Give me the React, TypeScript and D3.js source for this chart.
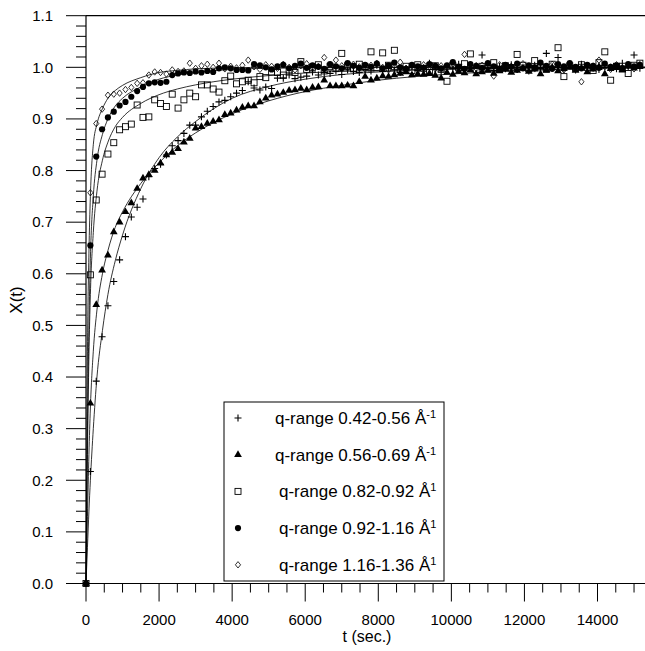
import React from "react";
import * as d3 from "d3";

const WIDTH = 645;
const HEIGHT = 651;

// sampling times (s), first point is the origin
const times = [0, 120, 280, 440, 600, 760, 920, 1080, 1240, 1400, 1560, 1720, 1880, 2040, 2200, 2360, 2520, 2680, 2840, 3000, 3160, 3320, 3480, 3640, 3800, 3960, 4120, 4280, 4440, 4600, 4760, 4920, 5080, 5240, 5400, 5560, 5720, 5880, 6040, 6200, 6360, 6520, 6680, 6840, 7000, 7160, 7320, 7480, 7640, 7800, 7960, 8120, 8280, 8440, 8600, 8760, 8920, 9080, 9240, 9400, 9560, 9720, 9880, 10040, 10200, 10360, 10520, 10680, 10840, 11000, 11160, 11320, 11480, 11640, 11800, 11960, 12120, 12280, 12440, 12600, 12760, 12920, 13080, 13240, 13400, 13560, 13720, 13880, 14040, 14200, 14360, 14520, 14680, 14840, 15000, 15160];

const plusVals = [0,
  0.217, 0.392, 0.478, 0.538, 0.585, 0.627, 0.672, 0.710, 0.729, 0.745, 0.788, 0.804,
  0.812, 0.830, 0.848, 0.858, 0.872, 0.888, 0.888, 0.904, 0.915, 0.924, 0.933, 0.936,
  0.943, 0.950, 0.955, 0.972, 0.960, 0.956, 0.962, 0.959, 0.979, 0.979, 0.985, 0.978,
  0.981, 0.983, 0.991, 0.985, 0.990, 0.988, 0.993, 0.986, 0.995, 0.992, 0.990, 0.996,
  0.993, 1.004, 0.992, 0.998, 0.995, 0.990, 0.997, 1.002, 0.994, 0.999, 1.008, 0.996,
  0.993, 1.001, 0.997, 1.006, 0.995, 0.999, 1.003, 1.024, 0.998, 0.994, 1.002, 0.997,
  1.005, 0.996, 1.000, 0.993, 1.004, 0.998, 1.027, 1.001, 1.019, 0.997, 1.003, 0.995,
  1.006, 0.999, 1.002, 0.996, 1.004, 1.000, 0.997, 1.008, 1.001, 1.024, 0.998];

const triVals = [0,
  0.349, 0.540, 0.607, 0.636, 0.681, 0.700, 0.720, 0.737, 0.765, 0.785, 0.792, 0.800,
  0.814, 0.830, 0.835, 0.842, 0.855, 0.862, 0.882, 0.885, 0.891, 0.895, 0.898, 0.908,
  0.911, 0.917, 0.922, 0.925, 0.925, 0.933, 0.940, 0.946, 0.948, 0.951, 0.955, 0.956,
  0.959, 0.956, 0.961, 0.962, 0.975, 0.964, 0.964, 0.964, 0.965, 0.964, 0.972, 0.982,
  0.975, 0.979, 0.983, 0.982, 0.985, 0.988, 0.991, 0.985, 0.987, 0.986, 0.988, 0.984,
  0.979, 0.990, 0.986, 0.992, 0.989, 0.995, 0.987, 0.991, 0.994, 0.988, 0.993, 0.996,
  0.990, 0.994, 0.998, 0.992, 0.996, 0.987, 0.995, 0.999, 0.993, 0.997, 1.000, 0.994,
  0.998, 0.991, 0.996, 1.001, 0.987, 0.997, 0.999, 0.995, 1.002, 0.998, 1.004];

const squareVals = [0,
  0.598, 0.743, 0.793, 0.832, 0.854, 0.879, 0.885, 0.890, 0.927, 0.903, 0.904, 0.937,
  0.930, 0.924, 0.948, 0.921, 0.937, 0.950, 0.943, 0.966, 0.966, 0.958, 0.952, 0.974,
  0.983, 0.968, 0.972, 0.975, 0.970, 0.982, 0.980, 0.991, 0.990, 0.985, 0.995, 0.990,
  1.011, 0.996, 1.000, 1.005, 0.993, 1.002, 0.998, 1.027, 1.003, 0.997, 1.006, 1.001,
  1.030, 0.999, 1.028, 1.004, 1.033, 0.996, 1.002, 0.994, 1.005, 0.998, 0.990, 1.003,
  0.996, 0.973, 1.004, 0.999, 1.007, 1.026, 0.995, 1.002, 0.998, 1.009, 0.996, 1.003,
  0.999, 1.025, 1.004, 0.997, 1.013, 1.001, 0.996, 1.006, 1.038, 0.982, 1.003, 0.998,
  1.005, 1.000, 0.994, 1.009, 1.030, 0.975, 1.002, 0.997, 0.988, 1.004, 1.008];

const circleVals = [0,
  0.655, 0.827, 0.880, 0.903, 0.914, 0.926, 0.933, 0.943, 0.954, 0.962, 0.969, 0.971,
  0.970, 0.972, 0.985, 0.988, 0.990, 0.989, 0.992, 0.990, 0.993, 0.991, 0.998, 1.000,
  0.998, 0.995, 0.995, 0.994, 1.006, 1.004, 1.000, 0.996, 1.002, 1.005, 0.998, 1.003,
  1.007, 0.999, 1.004, 1.001, 0.997, 1.006, 1.002, 0.998, 1.008, 1.003, 0.999, 1.005,
  1.001, 1.007, 0.998, 1.004, 1.009, 1.000, 0.997, 1.005, 1.002, 0.999, 1.006, 1.003,
  0.998, 1.004, 1.010, 1.001, 0.997, 1.006, 1.003, 0.999, 1.008, 1.002, 0.996, 1.005,
  1.001, 1.007, 0.998, 1.004, 1.000, 1.009, 1.003, 0.997, 1.006, 1.002, 1.008, 1.001,
  0.998, 1.005, 1.003, 0.999, 1.007, 1.001, 1.004, 0.998, 1.006, 1.002, 1.005];

const diamondVals = [0,
  0.757, 0.891, 0.919, 0.946, 0.948, 0.950, 0.957, 0.961, 0.969, 0.970, 0.985, 0.991,
  0.990, 0.987, 0.995, 0.992, 0.993, 1.008, 0.998, 1.003, 1.006, 1.000, 1.008, 0.997,
  1.002, 0.999, 1.004, 1.014, 1.001, 0.996, 1.005, 1.002, 0.998, 1.006, 1.000, 0.995,
  1.003, 1.007, 0.999, 1.002, 1.019, 0.997, 1.014, 1.003, 0.999, 1.006, 1.001, 0.996,
  1.004, 1.008, 1.000, 0.995, 1.003, 1.010, 0.998, 1.002, 0.994, 1.005, 1.001, 0.997,
  1.003, 0.999, 1.006, 0.996, 1.025, 1.002, 0.998, 1.004, 1.000, 0.983, 1.005, 0.999,
  1.002, 0.996, 1.007, 1.001, 0.997, 1.004, 0.999, 1.006, 1.002, 0.995, 1.003, 1.000,
  0.972, 1.004, 0.998, 1.014, 1.001, 0.996, 1.005, 0.999, 1.003, 0.997, 1.004];

// fitted curves at these times
const fitTimes = [0, 40, 80, 120, 200, 300, 450, 600, 800, 1000, 1500, 2000, 2500, 3000, 4000, 5000, 6000, 7000, 8000, 10000, 12000, 15300];
const plusFit = [0, 0.07, 0.14, 0.2, 0.3, 0.4, 0.49, 0.56, 0.625, 0.675, 0.765, 0.825, 0.865, 0.895, 0.94, 0.963, 0.977, 0.986, 0.991, 0.997, 0.999, 1.0];
const triFit = [0, 0.13, 0.25, 0.34, 0.45, 0.53, 0.6, 0.645, 0.69, 0.72, 0.775, 0.815, 0.848, 0.873, 0.91, 0.935, 0.953, 0.965, 0.975, 0.987, 0.994, 0.999];
const squareFit = [0, 0.25, 0.44, 0.56, 0.68, 0.76, 0.82, 0.855, 0.885, 0.903, 0.93, 0.947, 0.958, 0.966, 0.977, 0.984, 0.989, 0.992, 0.994, 0.997, 0.999, 1.0];
const circleFit = [0, 0.3, 0.5, 0.63, 0.75, 0.82, 0.87, 0.9, 0.925, 0.94, 0.962, 0.977, 0.985, 0.99, 0.996, 0.998, 0.999, 1.0, 1.0, 1.0, 1.0, 1.0];
const diamondFit = [0, 0.45, 0.64, 0.75, 0.85, 0.89, 0.92, 0.94, 0.955, 0.965, 0.98, 0.99, 0.994, 0.997, 0.999, 1.0, 1.0, 1.0, 1.0, 1.0, 1.0, 1.0];

const legendRanges = ["0.42-0.56", "0.56-0.69", "0.82-0.92", "0.92-1.16", "1.16-1.36"];
const legendSup = ["-1", "-1", "1", "1", "1"];

const xMajor = [0, 2000, 4000, 6000, 8000, 10000, 12000, 14000];
const yMajor = [0, 0.1, 0.2, 0.3, 0.4, 0.5, 0.6, 0.7, 0.8, 0.9, 1.0, 1.1];

const FONT = "'Liberation Sans', Arial, Helvetica, sans-serif";

const Marker = ({ kind }: { kind: string }) => {
  if (kind === "plus")
    return <path d="M-3.5,0H3.5M0,-3.5V3.5" stroke="#000" strokeWidth={1.1} fill="none" />;
  if (kind === "tri")
    return <path d={d3.symbol(d3.symbolTriangle, 26)() || ""} fill="#000" />;
  if (kind === "square")
    return <rect x={-3} y={-3} width={6} height={6} fill="none" stroke="#000" strokeWidth={0.9} />;
  if (kind === "circle") return <circle r={3.1} fill="#000" />;
  return <path d="M0,-3.2L2.6,0L0,3.2L-2.6,0Z" fill="none" stroke="#000" strokeWidth={0.8} />;
};

const series = [
  { kind: "plus", vals: plusVals, fit: plusFit },
  { kind: "tri", vals: triVals, fit: triFit },
  { kind: "square", vals: squareVals, fit: squareFit },
  { kind: "circle", vals: circleVals, fit: circleFit },
  { kind: "diamond", vals: diamondVals, fit: diamondFit },
];

export default function App() {
  const x = d3.scaleLinear().domain([0, 15300]).range([86, 645]);
  const y = d3.scaleLinear().domain([0, 1.1]).range([583.5, 15.7]);

  const line = d3
    .line<number>()
    .x((_, i) => x(fitTimes[i]))
    .y((d) => y(d))
    .curve(d3.curveMonotoneX);

  // minor ticks every 500 s and every 0.02
  const xMinor = d3.range(0, 15301, 500).filter((v) => v % 2000 !== 0);
  const yMinor = d3.range(0, 56).map((i) => i * 0.02).filter((v) => Math.round(v * 100) % 10 !== 0);

  return (
    <div style={{ position: "absolute", left: 0, top: 0 }}>
      <svg width={WIDTH} height={HEIGHT} style={{ display: "block", background: "#fff" }} fontFamily={FONT}>
        {/* fitted curves */}
        {series.map((s) => (
          <path key={s.kind + "fit"} d={line(s.fit) || ""} fill="none" stroke="#000" strokeWidth={0.8} />
        ))}

        {/* points */}
        {series.map((s) => (
          <g key={s.kind}>
            {s.vals.map((v, i) => (
              <g key={i} transform={`translate(${x(times[i])},${y(v)})`}>
                <Marker kind={s.kind} />
              </g>
            ))}
          </g>
        ))}

        {/* frame */}
        <line x1={x(0)} x2={645} y1={y(1.1)} y2={y(1.1)} stroke="#000" strokeWidth={1.2} />
        <line x1={x(0)} x2={x(0)} y1={y(0)} y2={y(1.1)} stroke="#000" strokeWidth={1.2} />
        <line x1={x(0)} x2={645} y1={y(0)} y2={y(0)} stroke="#000" strokeWidth={1.2} />

        {/* y axis ticks */}
        {yMajor.map((v) => (
          <g key={v}>
            <line x1={x(0) - 20} x2={x(0)} y1={y(v)} y2={y(v)} stroke="#000" strokeWidth={1} />
            <text x={53} y={y(v)} dy="0.35em" textAnchor="end" fontSize={15}>
              {v.toFixed(1)}
            </text>
          </g>
        ))}
        {yMinor.map((v) => (
          <line key={v} x1={x(0) - 10} x2={x(0)} y1={y(v)} y2={y(v)} stroke="#000" strokeWidth={1} />
        ))}

        {/* x axis ticks */}
        {xMajor.map((v) => (
          <g key={v}>
            <line x1={x(v)} x2={x(v)} y1={y(0)} y2={y(0) + 18} stroke="#000" strokeWidth={1} />
            <text x={x(v)} y={625} textAnchor="middle" fontSize={15}>
              {v}
            </text>
          </g>
        ))}
        {xMinor.map((v) => (
          <line key={v} x1={x(v)} x2={x(v)} y1={y(0)} y2={y(0) + 9} stroke="#000" strokeWidth={1} />
        ))}

        {/* axis titles */}
        <text x={367} y={642} textAnchor="middle" fontSize={16}>t (sec.)</text>
        <text transform="translate(22,300) rotate(-90)" textAnchor="middle" fontSize={17}>X(t)</text>

        {/* legend */}
        <g>
          <rect x={224} y={402} width={220} height={179} fill="#fff" stroke="#000" strokeWidth={1} />
          {series.map((s, i) => {
            const cy = 418 + i * 36.7;
            return (
              <g key={s.kind + "leg"}>
                <g transform={`translate(238,${cy})`}>
                  <Marker kind={s.kind} />
                </g>
                <text x={i < 2 ? 275 : 279} y={cy} dy="0.35em" fontSize={17}>
                  {`q-range ${legendRanges[i]} Å`}
                  <tspan dy="-0.55em" fontSize={11}>{legendSup[i]}</tspan>
                </text>
              </g>
            );
          })}
        </g>
      </svg>
    </div>
  );
}
